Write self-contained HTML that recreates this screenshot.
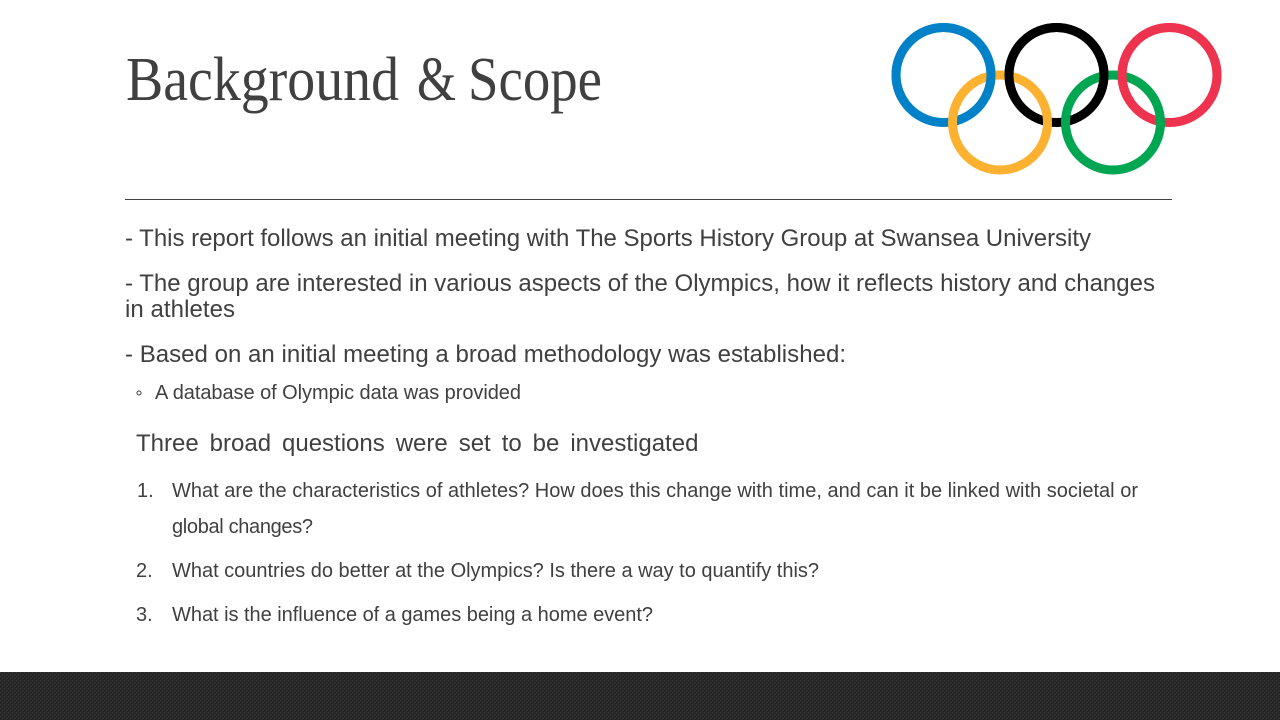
<!DOCTYPE html>
<html lang="en">
<head>
<meta charset="utf-8">
<title>Background &amp; Scope</title>
<style>
html,body{margin:0;padding:0;width:1280px;height:720px;overflow:hidden;background:#fff}
svg{display:block}
.t{font-family:"Liberation Sans",Arial,sans-serif;fill:#404040}
.b24{font-size:24px}
.b20{font-size:20px}
.h{font-family:"Liberation Serif",serif;font-size:62px;fill:#404040}
</style>
</head>
<body>
<svg width="1280" height="720" viewBox="0 0 1280 720" xmlns="http://www.w3.org/2000/svg">
<defs>
<pattern id="dots" width="4" height="4" patternUnits="userSpaceOnUse">
<rect width="4" height="4" fill="#252525"/>
<rect x="0" y="0" width="1.5" height="1.5" fill="#343434"/>
<rect x="2" y="2" width="1.5" height="1.5" fill="#343434"/>
</pattern>
<clipPath id="upper"><rect x="880" y="0" width="350" height="100"/></clipPath>
</defs>
<rect width="1280" height="720" fill="#ffffff"/>
<g>
<text class="h" x="126" y="100" textLength="273" lengthAdjust="spacingAndGlyphs">Background</text>
<text class="h" x="417" y="100" textLength="39" lengthAdjust="spacingAndGlyphs">&amp;</text>
<text class="h" x="468" y="100" textLength="134" lengthAdjust="spacingAndGlyphs">Scope</text>
</g>
<g fill="none" stroke-width="9">
<circle cx="943.5" cy="75" r="47.5" stroke="#0081c8"/>
<circle cx="1056.5" cy="75" r="47.5" stroke="#000000"/>
<circle cx="1169.5" cy="75" r="47.5" stroke="#ee334e"/>
<circle cx="1000" cy="122.5" r="47.5" stroke="#fcb131"/>
<circle cx="1113" cy="122.5" r="47.5" stroke="#00a651"/>
<g clip-path="url(#upper)">
<circle cx="943.5" cy="75" r="47.5" stroke="#0081c8"/>
<circle cx="1056.5" cy="75" r="47.5" stroke="#000000"/>
<circle cx="1169.5" cy="75" r="47.5" stroke="#ee334e"/>
</g>
</g>
<rect x="125" y="199" width="1047" height="1" fill="#404040"/>
<text class="t b24" x="125" y="246" textLength="966">- This report follows an initial meeting with The Sports History Group at Swansea University</text>
<text class="t b24" x="125" y="291" textLength="1030">- The group are interested in various aspects of the Olympics, how it reflects history and changes</text>
<text class="t b24" x="125" y="317" textLength="110">in athletes</text>
<text class="t b24" x="125" y="362" textLength="721">- Based on an initial meeting a broad methodology was established:</text>
<circle cx="139" cy="393" r="2" fill="none" stroke="#404040" stroke-width="1"/>
<text class="t b20" x="155" y="399" textLength="366">A database of Olympic data was provided</text>
<text class="t b24" x="136" y="451" word-spacing="4.3" style="word-spacing:4.3px">Three broad questions were set to be investigated</text>
<text class="t b20" x="137" y="497">1.</text>
<text class="t b20" x="172" y="497" textLength="966">What are the characteristics of athletes? How does this change with time, and can it be linked with societal or</text>
<text class="t b20" x="172" y="533" textLength="141">global changes?</text>
<text class="t b20" x="136" y="577">2.</text>
<text class="t b20" x="172" y="577" textLength="647">What countries do better at the Olympics? Is there a way to quantify this?</text>
<text class="t b20" x="136" y="621">3.</text>
<text class="t b20" x="172" y="621" textLength="481">What is the influence of a games being a home event?</text>
<rect x="0" y="672" width="1280" height="48" fill="url(#dots)"/>
</svg>
</body>
</html>
